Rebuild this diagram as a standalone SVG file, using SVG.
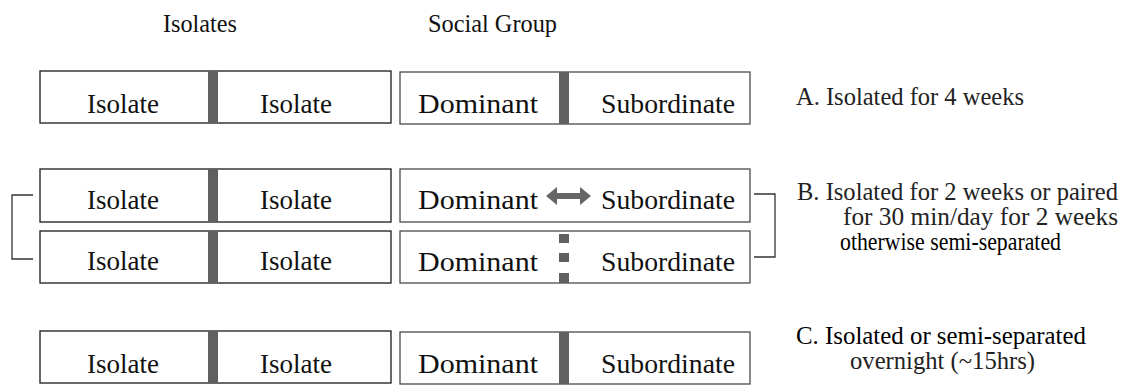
<svg xmlns="http://www.w3.org/2000/svg" width="1123" height="392" viewBox="0 0 1123 392">
<style>
.box{fill:#fff;stroke:#1a1a1a;stroke-width:1.3}
.boxr{fill:#fff;stroke:#4a4a4a;stroke-width:1.3}
.div{fill:#606060}
.t{font-size:28px;fill:#111}
.h{font-size:26px;fill:#111}
.l{font-size:25px;fill:#222}
.lb{font-size:25px;fill:#000}
.br{fill:none;stroke:#333;stroke-width:1.3}
</style>
<rect width="1123" height="392" fill="#fff"/>
<g font-family="'Liberation Serif', 'Times New Roman', serif">
<g id="headers">
<text class="h" x="163" y="32" textLength="74" lengthAdjust="spacingAndGlyphs">Isolates</text>
<text class="h" x="428" y="32" textLength="129" lengthAdjust="spacingAndGlyphs">Social Group</text>
</g>
<g id="rowA-isolates">
<rect class="box" x="40" y="71" width="351" height="52"/>
<rect class="div" x="208" y="71" width="10" height="52"/>
<text class="t" x="87" y="113" textLength="72" lengthAdjust="spacingAndGlyphs">Isolate</text>
<text class="t" x="260" y="113" textLength="72" lengthAdjust="spacingAndGlyphs">Isolate</text>
</g>
<g id="rowA-social">
<rect class="boxr" x="400" y="72" width="350" height="52"/>
<rect class="div" x="559" y="72" width="10" height="52"/>
<text class="t" x="418" y="113" textLength="120" lengthAdjust="spacingAndGlyphs">Dominant</text>
<text class="t" x="601" y="113" textLength="134" lengthAdjust="spacingAndGlyphs">Subordinate</text>
</g>
<g id="labelA">
<text class="l" x="796" y="105" textLength="228" lengthAdjust="spacingAndGlyphs">A. Isolated for 4 weeks</text>
</g>
<g id="rowB1-isolates">
<rect class="box" x="40" y="169" width="351" height="53"/>
<rect class="div" x="208" y="169" width="10" height="53"/>
<text class="t" x="87" y="209" textLength="72" lengthAdjust="spacingAndGlyphs">Isolate</text>
<text class="t" x="260" y="209" textLength="72" lengthAdjust="spacingAndGlyphs">Isolate</text>
</g>
<g id="rowB2-isolates">
<rect class="box" x="40" y="231" width="351" height="52"/>
<rect class="div" x="208" y="231" width="10" height="52"/>
<text class="t" x="87" y="270" textLength="72" lengthAdjust="spacingAndGlyphs">Isolate</text>
<text class="t" x="260" y="270" textLength="72" lengthAdjust="spacingAndGlyphs">Isolate</text>
</g>
<g id="rowB1-social">
<rect class="boxr" x="400" y="169" width="350" height="53"/>
<text class="t" x="418" y="209" textLength="120" lengthAdjust="spacingAndGlyphs">Dominant</text>
<text class="t" x="601" y="209" textLength="134" lengthAdjust="spacingAndGlyphs">Subordinate</text>
</g>
<g id="rowB2-social">
<rect class="boxr" x="400" y="231" width="350" height="52"/>
<rect class="div" x="559" y="234" width="10" height="9"/>
<rect class="div" x="559" y="253" width="10" height="9"/>
<rect class="div" x="559" y="273" width="10" height="10"/>
<text class="t" x="418" y="271" textLength="120" lengthAdjust="spacingAndGlyphs">Dominant</text>
<text class="t" x="601" y="271" textLength="134" lengthAdjust="spacingAndGlyphs">Subordinate</text>
</g>
<g id="labelB">
<text class="l" x="797" y="200" textLength="321" lengthAdjust="spacingAndGlyphs">B. Isolated for 2 weeks or paired</text>
<text class="l" x="843" y="225" textLength="275" lengthAdjust="spacingAndGlyphs">for 30 min/day for 2 weeks</text>
<text class="lb" x="840" y="250" textLength="221" lengthAdjust="spacingAndGlyphs">otherwise semi-separated</text>
</g>
<g id="rowC-isolates">
<rect class="box" x="40" y="331" width="351" height="52"/>
<rect class="div" x="208" y="331" width="10" height="52"/>
<text class="t" x="87" y="373" textLength="72" lengthAdjust="spacingAndGlyphs">Isolate</text>
<text class="t" x="260" y="373" textLength="72" lengthAdjust="spacingAndGlyphs">Isolate</text>
</g>
<g id="rowC-social">
<rect class="boxr" x="400" y="332" width="350" height="52"/>
<rect class="div" x="559" y="332" width="10" height="52"/>
<text class="t" x="418" y="373" textLength="120" lengthAdjust="spacingAndGlyphs">Dominant</text>
<text class="t" x="601" y="373" textLength="134" lengthAdjust="spacingAndGlyphs">Subordinate</text>
</g>
<g id="labelC">
<text class="lb" x="796" y="344" textLength="290" lengthAdjust="spacingAndGlyphs">C. Isolated or semi-separated</text>
<text class="l" x="850" y="369" textLength="185" lengthAdjust="spacingAndGlyphs">overnight (~15hrs)</text>
</g>
</g>
<g id="connectors">
<polyline class="br" points="33,195 12,195 12,259 33,259"/>
<polyline class="br" points="754,194 775,194 775,257 754,257"/>
<polygon fill="#666" points="546,196 557,187 557,193 580,193 580,187 591,196 580,205 580,199 557,199 557,205"/>
</g>
</svg>
